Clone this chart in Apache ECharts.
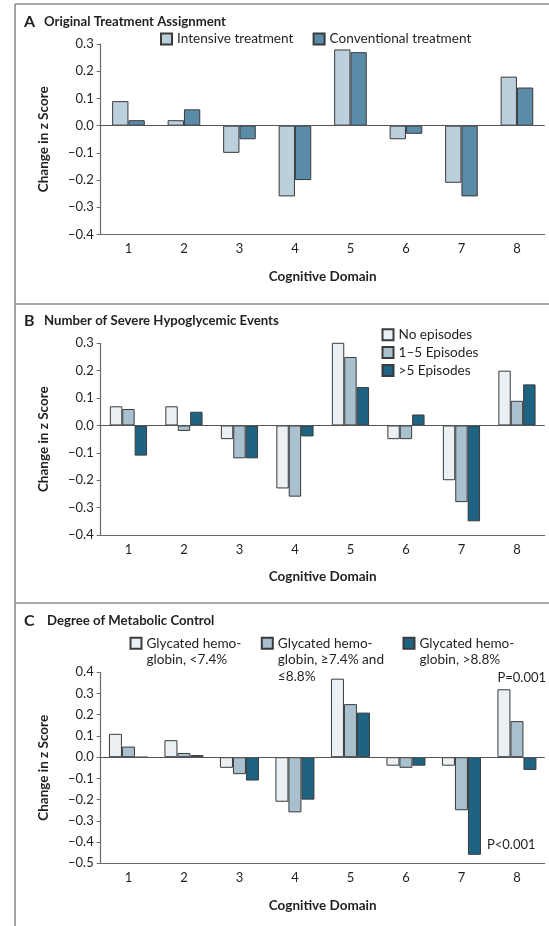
<!DOCTYPE html>
<html>
<head>
<meta charset="utf-8">
<script src="https://cdn.jsdelivr.net/npm/echarts@6/dist/echarts.min.js"></script>
<style>
html,body{margin:0;padding:0;background:#fff;}
#chart{width:549px;height:926px;}
</style>
</head>
<body>
<div id="chart"></div>
<script>
// ---- data ----
const categories = ['1', '2', '3', '4', '5', '6', '7', '8'];
const intensive = [0.09, 0.02, -0.10, -0.26, 0.28, -0.05, -0.21, 0.18];
const conventional = [0.02, 0.06, -0.05, -0.20, 0.27, -0.03, -0.26, 0.14];
const noEpisodes = [0.07, 0.07, -0.05, -0.23, 0.31, -0.05, -0.20, 0.20];
const episodes1to5 = [0.06, -0.02, -0.12, -0.26, 0.25, -0.05, -0.28, 0.09];
const episodesOver5 = [-0.11, 0.05, -0.12, -0.04, 0.14, 0.04, -0.35, 0.15];
const hbLow = [0.11, 0.08, -0.05, -0.21, 0.37, -0.04, -0.04, 0.32];
const hbMid = [0.05, 0.02, -0.08, -0.26, 0.25, -0.05, -0.25, 0.17];
const hbHigh = [0.00, 0.01, -0.11, -0.20, 0.21, -0.04, -0.46, -0.06];
const yRangeAB = [-0.4, 0.3];
const yRangeC = [-0.5, 0.4];
const panelTitles = ['Original Treatment Assignment', 'Number of Severe Hypoglycemic Events', 'Degree of Metabolic Control'];
const panelLetters = ['A', 'B', 'C'];
const namesA = ['Intensive treatment', 'Conventional treatment'];
const namesB = ['No episodes', '1\u20135 Episodes', '>5 Episodes'];
const namesC = ['Glycated hemoglobin, <7.4%', 'Glycated hemoglobin, \u22657.4% and \u22648.8%', 'Glycated hemoglobin, >8.8%'];
const legendLinesC = [
  ['Glycated hemo-', 'globin, <7.4%'],
  ['Glycated hemo-', 'globin, \u22657.4% and', '\u22648.8%'],
  ['Glycated hemo-', 'globin, >8.8%']
];
const pHigh = 'P=0.001';
const pLow = 'P<0.001';

const FONT = 'Lato, "DejaVu Sans", sans-serif';
const TXT = '#231f20';
const colLight = '#eaf0f4', colMid = '#a9c0ce', colDark = '#1e6482';
const colA1 = '#bccfdc', colA2 = '#5b8ca7';

const chart = echarts.init(document.getElementById('chart'), null, {renderer: 'canvas'});

const grids = [
  {left: 100.7, top: 44, width: 444, height: 190.5},
  {left: 100.7, top: 343.3, width: 444, height: 191.7},
  {left: 100.7, top: 672.3, width: 444, height: 191}
];

function fmt(v) {
  const s = Math.abs(v).toFixed(1);
  return v < -1e-9 ? '\u2212' + s : s;
}

const xAxes = grids.map((g, i) => ({
  type: 'category', gridIndex: i, data: categories,
  axisLine: {onZero: false, lineStyle: {color: '#6b6b6b', width: 1.2}},
  axisTick: {alignWithLabel: true, length: 4, lineStyle: {color: '#6b6b6b', width: 1}},
  axisLabel: {color: TXT, fontSize: 13, fontFamily: FONT, margin: 8},
  name: 'Cognitive Domain', nameLocation: 'middle', nameGap: 35,
  nameTextStyle: {color: TXT, fontSize: 13.5, fontWeight: 'bold', fontFamily: FONT}
}));

const yAxes = grids.map((g, i) => {
  const r = i === 2 ? yRangeC : yRangeAB;
  return {
    type: 'value', gridIndex: i, min: r[0], max: r[1], interval: 0.1,
    axisLine: {show: true, lineStyle: {color: '#6b6b6b', width: 1.2}},
    axisTick: {show: true, length: 4, lineStyle: {color: '#6b6b6b', width: 1}},
    splitLine: {show: false},
    axisLabel: {color: TXT, fontSize: 13, fontFamily: FONT, margin: 7, formatter: fmt},
    name: 'Change in z Score', nameLocation: 'middle', nameGap: 50,
    nameTextStyle: {color: TXT, fontSize: 13.5, fontWeight: 'bold', fontFamily: FONT}
  };
});

const border = {borderColor: '#3a3a3a', borderWidth: 1};
const zeroLine = {
  silent: true, symbol: 'none', label: {show: false},
  lineStyle: {color: '#555', width: 1.2, type: 'solid'},
  data: [{yAxis: 0}]
};

function bar(name, data, color, gi, bw, extra) {
  const s = {
    type: 'bar', name: name, data: data, xAxisIndex: gi, yAxisIndex: gi,
    barWidth: bw, barGap: '0%', itemStyle: Object.assign({color: color}, border),
    emphasis: {disabled: true}, animation: false
  };
  return Object.assign(s, extra || {});
}

const hbLowData = hbLow.map((v, i) => i === 7 ? {
  value: v,
  label: {show: true, formatter: pHigh, position: ['0%', '0%'], offset: [0, -11], align: 'left', verticalAlign: 'middle',
          color: TXT, fontSize: 13, fontFamily: FONT}
} : v);
const hbHighData = hbHigh.map((v, i) => i === 6 ? {
  value: v,
  label: {show: true, formatter: pLow, position: ['100%', '100%'], offset: [6, -10], align: 'left', verticalAlign: 'middle',
          color: TXT, fontSize: 13, fontFamily: FONT}
} : v);

const series = [
  bar(namesA[0], intensive, colA1, 0, 16.3, {markLine: zeroLine}),
  bar(namesA[1], conventional, colA2, 0, 16.3),
  bar(namesB[0], noEpisodes, colLight, 1, 12.4, {markLine: zeroLine}),
  bar(namesB[1], episodes1to5, colMid, 1, 12.4),
  bar(namesB[2], episodesOver5, colDark, 1, 12.4),
  bar(namesC[0], hbLowData, colLight, 2, 13, {markLine: zeroLine}),
  bar(namesC[1], hbMid, colMid, 2, 13),
  bar(namesC[2], hbHighData, colDark, 2, 13)
];

const legendText = {color: TXT, fontSize: 13.6, fontFamily: FONT};
function oneLegend(name, left, top, extraText) {
  return {
    data: [name], left: left, top: top, padding: 0, itemWidth: 11, itemHeight: 11,
    icon: 'rect', selectedMode: false,
    textStyle: Object.assign({}, legendText, extraText || {})
  };
}
const LH = 16.7;
const legends = [
  oneLegend(namesA[0], 160, 32),
  oneLegend(namesA[1], 312.6, 32),
  oneLegend(namesB[0], 381.5, 327.8),
  oneLegend(namesB[1], 381.5, 345.5),
  oneLegend(namesB[2], 381.5, 363.5)
];
const legendLeftC = [129.5, 260.8, 402.5];
const legendIconCenterC = 643.3;
namesC.forEach((n, i) => {
  const lines = legendLinesC[i];
  const nBlank = lines.length - 1;
  // blank lines above keep the first text line level with the legend box
  const text = new Array(nBlank).fill(' ').concat(lines).join('\n');
  const total = nBlank + lines.length;
  const L = oneLegend(n, legendLeftC[i], legendIconCenterC - total * LH / 2, {lineHeight: LH});
  L.formatter = () => text;
  legends.push(L);
});

const titles = [0, 1, 2].map(i => ({
  text: '{l|' + panelLetters[i] + '}' + panelTitles[i],
  left: 24, top: [14, 313, 613][i], padding: 0,
  textStyle: {
    color: TXT, fontSize: 13.2, fontWeight: 'bold', fontFamily: FONT,
    rich: {l: {width: [20, 20, 23][i], fontSize: 16, fontWeight: 'bold', fontFamily: FONT, color: TXT}}
  }
}));

const frameStyle = {stroke: '#8c8c8c', lineWidth: 1.6};
const graphic = [
  {type: 'line', shape: {x1: 15, y1: 4, x2: 15, y2: 926}, style: frameStyle, silent: true},
  {type: 'line', shape: {x1: 15, y1: 4, x2: 549, y2: 4}, style: frameStyle, silent: true},
  {type: 'line', shape: {x1: 15, y1: 304, x2: 549, y2: 304}, style: frameStyle, silent: true},
  {type: 'line', shape: {x1: 15, y1: 603, x2: 549, y2: 603}, style: frameStyle, silent: true}
];

chart.setOption({
  animation: false,
  backgroundColor: '#ffffff',
  title: titles,
  legend: legends,
  grid: grids,
  xAxis: xAxes,
  yAxis: yAxes,
  series: series,
  graphic: graphic
});
</script>
</body>
</html>
